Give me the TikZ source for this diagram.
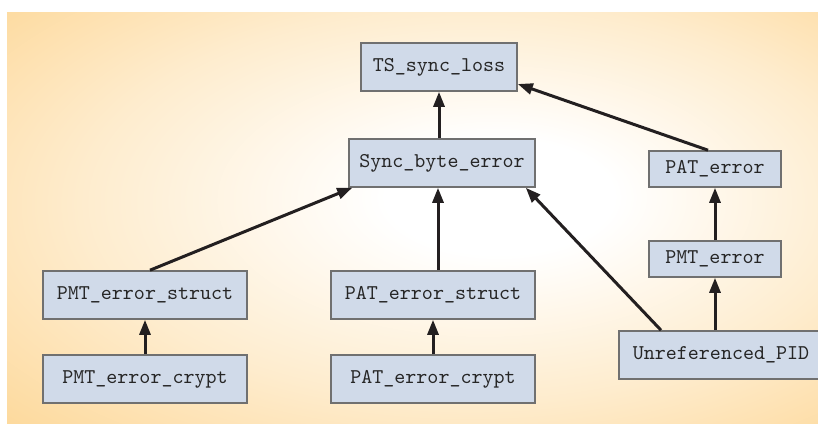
\documentclass[tikz,border=0pt]{standalone}
\usepackage{fontspec}
\usetikzlibrary{arrows.meta}
\definecolor{bgorange}{RGB}{253,213,145}
\definecolor{boxfill}{RGB}{208,218,233}
\definecolor{boxline}{RGB}{112,112,112}
\definecolor{arrowink}{RGB}{35,31,32}
\pgfdeclareradialshading{bgglow}{\pgfpoint{6bp}{3bp}}{color(0bp)=(white); color(7bp)=(white); color(24bp)=(bgorange!45!white); color(41bp)=(bgorange); color(60bp)=(bgorange)}
\begin{document}
\begin{tikzpicture}[x=0.5pt,y=-0.5pt,
	errbox/.style={draw=boxline,line width=0.8pt,fill=boxfill,inner sep=0pt,
		font=\ttfamily\fontsize{10.5}{12}\selectfont,text=black!85},
	dep/.style={draw=arrowink,line width=1.5pt,-{Triangle[length=7.5pt,width=5.5pt]}}]
	\useasboundingbox (0,0) rectangle (818,423);
	\shade[shading=bgglow] (7,12) rectangle (820,425);
	% top level
	\node[errbox,minimum width=78pt,minimum height=24pt] (ts) at (439,67) {TS\_sync\_loss};
	\node[errbox,minimum width=93pt,minimum height=24pt] (sync) at (442,163) {Sync\_byte\_error};
	\node[errbox,minimum width=66pt,minimum height=18pt] (pat) at (715,169) {PAT\_error};
	\node[errbox,minimum width=66pt,minimum height=18pt] (pmt) at (715,259) {PMT\_error};
	% lower rows
	\node[errbox,minimum width=102pt,minimum height=24pt] (pmtstruct) at (145,295) {PMT\_error\_struct};
	\node[errbox,minimum width=102pt,minimum height=24pt] (pmtcrypt) at (145,379) {PMT\_error\_crypt};
	\node[errbox,minimum width=102pt,minimum height=24pt] (patstruct) at (433,295) {PAT\_error\_struct};
	\node[errbox,minimum width=102pt,minimum height=24pt] (patcrypt) at (433,379) {PAT\_error\_crypt};
	\node[errbox,minimum width=102pt,minimum height=24pt] (unref) at (721,355) {Unreferenced\_PID};
	% dependencies
	\draw[dep] (ts.south |- sync.north) -- (ts.south);
	\draw[dep] ([xshift=-3.5pt]pat.north) -- ([yshift=-8.5pt]ts.east);
	\draw[dep] ([xshift=2.5pt]pmtstruct.north) -- ([xshift=2pt]sync.south west);
	\draw[dep] ([xshift=2.5pt]patstruct.north) -- ([xshift=2.5pt]patstruct.north |- sync.south);
	\draw[dep] ([xshift=-30pt]unref.north) -- ([xshift=-5pt]sync.south east);
	\draw[dep] ([xshift=-3pt]unref.north) -- ([xshift=-3pt]unref.north |- pmt.south);
	\draw[dep] (pmt.north) -- (pat.south);
	\draw[dep] (pmtcrypt.north) -- (pmtstruct.south);
	\draw[dep] (patcrypt.north) -- (patstruct.south);
\end{tikzpicture}
\end{document}
